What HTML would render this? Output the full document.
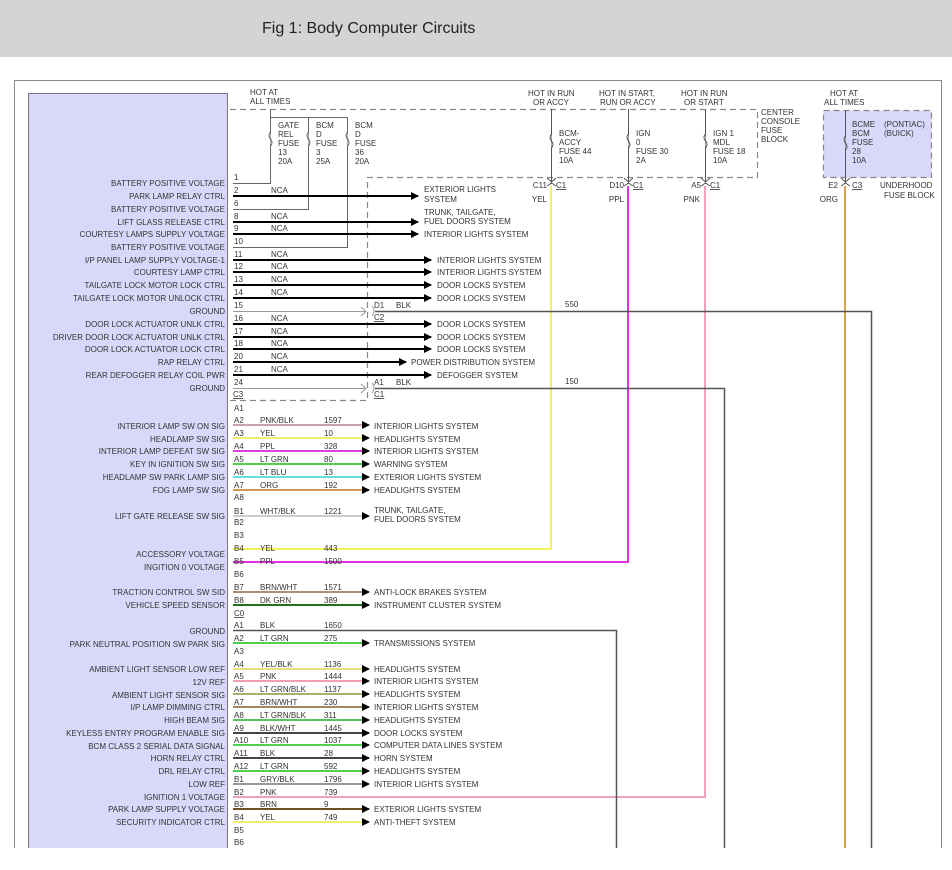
<!DOCTYPE html>
<html><head><meta charset="utf-8"><style>
html,body{margin:0;padding:0;background:#fff;}
svg{display:block;}
text{font-family:"Liberation Sans",sans-serif;font-size:8px;fill:#333;}
.r{text-anchor:end;}
.t{font-size:16px;fill:#222;}
</style></head><body>
<svg width="952" height="870" viewBox="0 0 952 870" xmlns="http://www.w3.org/2000/svg">
<defs>
<marker id="ar" markerWidth="8" markerHeight="8" refX="7" refY="4" orient="auto" markerUnits="userSpaceOnUse"><path d="M0,0 L8,4 L0,8 Z" fill="#000"/></marker>
</defs>
<rect x="0" y="0" width="952" height="57" fill="#d4d4d4"/>
<text class="t" x="262" y="33">Fig 1: Body Computer Circuits</text>
<path d="M14.5,848 V80.5 H941.5 V848" fill="none" stroke="#888" stroke-width="1"/>
<path d="M28.5,848 V93.5 H227.5 V848" fill="#d8d9fa" stroke="#777"/>

<!-- fuse block top -->
<g stroke="#888" stroke-dasharray="6,4" fill="none" stroke-width="1.2">
<path d="M230,109.5 H757.5 V177.5 H367.5 V400.5 H230"/>
<rect x="823.5" y="110.5" width="108" height="67" fill="#d8d9fa"/>
</g>
<text x="250" y="95">HOT AT</text><text x="250" y="104">ALL TIMES</text>
<g stroke="#666" fill="none" stroke-width="1">
<path d="M270.5,109 V183.5 H233"/>
<path d="M270.5,117.5 H347.5 V247.5 H233"/>
<path d="M308.5,117.5 V209.5 H233"/>
</g>
<g stroke="#666" fill="#fff" stroke-width="1">
<path d="M270.5,132 q-3,3.5 0,7 q3,3.5 0,7"/>
<path d="M308.5,132 q-3,3.5 0,7 q3,3.5 0,7"/>
<path d="M347.5,132 q-3,3.5 0,7 q3,3.5 0,7"/>
</g>
<text x="278" y="128">GATE</text><text x="278" y="137">REL</text><text x="278" y="146">FUSE</text><text x="278" y="155">13</text><text x="278" y="164">20A</text>
<text x="316" y="128">BCM</text><text x="316" y="137">D</text><text x="316" y="146">FUSE</text><text x="316" y="155">3</text><text x="316" y="164">25A</text>
<text x="355" y="128">BCM</text><text x="355" y="137">D</text><text x="355" y="146">FUSE</text><text x="355" y="155">36</text><text x="355" y="164">20A</text>

<!-- right fuses -->
<text x="528" y="96">HOT IN RUN</text><text x="533" y="105">OR ACCY</text>
<text x="599" y="96">HOT IN START,</text><text x="600" y="105">RUN OR ACCY</text>
<text x="681" y="96">HOT IN RUN</text><text x="684" y="105">OR START</text>
<text x="761" y="115">CENTER</text><text x="761" y="124">CONSOLE</text><text x="761" y="133">FUSE</text><text x="761" y="142">BLOCK</text>
<text x="830" y="96">HOT AT</text><text x="824" y="105">ALL TIMES</text>
<g stroke="#555" fill="none" stroke-width="1">
<path d="M551.5,109 V182"/><path d="M628.5,109 V182"/><path d="M705.5,109 V182"/><path d="M845.5,110 V182"/>
<path d="M547,178 l4.5,4 l4.5,-4 M624,178 l4.5,4 l4.5,-4 M701,178 l4.5,4 l4.5,-4 M841,178 l4.5,4 l4.5,-4"/>
<path d="M547,186 l4.5,-3 l4.5,3 M624,186 l4.5,-3 l4.5,3 M701,186 l4.5,-3 l4.5,3 M841,186 l4.5,-3 l4.5,3"/>
</g>
<g stroke="#555" fill="#fff" stroke-width="1">
<path d="M551.5,134 q-3,3.5 0,7 q3,3.5 0,7"/><path d="M628.5,134 q-3,3.5 0,7 q3,3.5 0,7"/><path d="M705.5,134 q-3,3.5 0,7 q3,3.5 0,7"/>
</g>
<path d="M845.5,136 q-3,3.5 0,7 q3,3.5 0,7" stroke="#555" fill="#d8d9fa"/>
<text x="559" y="136">BCM-</text><text x="559" y="145">ACCY</text><text x="559" y="154">FUSE 44</text><text x="559" y="163">10A</text>
<text x="636" y="136">IGN</text><text x="636" y="145">0</text><text x="636" y="154">FUSE 30</text><text x="636" y="163">2A</text>
<text x="713" y="136">IGN 1</text><text x="713" y="145">MDL</text><text x="713" y="154">FUSE 18</text><text x="713" y="163">10A</text>
<text x="852" y="127">BCME</text><text x="884" y="127">(PONTIAC)</text><text x="852" y="136">BCM</text><text x="884" y="136">(BUICK)</text><text x="852" y="145">FUSE</text><text x="852" y="154">28</text><text x="852" y="163">10A</text>
<text class="r" x="547" y="188">C11</text><text x="556" y="188" text-decoration="underline">C1</text>
<text class="r" x="624" y="188">D10</text><text x="633" y="188" text-decoration="underline">C1</text>
<text class="r" x="701" y="188">A5</text><text x="710" y="188" text-decoration="underline">C1</text>
<text class="r" x="838" y="188">E2</text><text x="852" y="188" text-decoration="underline">C3</text>
<text x="880" y="188">UNDERHOOD</text><text x="884" y="198">FUSE BLOCK</text>
<text class="r" x="547" y="202">YEL</text><text class="r" x="624" y="202">PPL</text><text class="r" x="700" y="202">PNK</text><text class="r" x="838" y="202">ORG</text>

<!-- vertical feed wires -->
<g fill="none" stroke-width="2">
<path d="M551,186 V549 H233" stroke="#f2f25a"/>
<path d="M628,186 V562 H233" stroke="#e030e0"/>
<path d="M705,186 V797 H233" stroke="#f0a0c0"/>
<path d="M845,186 V848" stroke="#d8a050"/>
</g>
<g fill="none" stroke="#555" stroke-width="1.5">
<path d="M375,311.5 H871.5 V848"/>
<path d="M375,388.5 H724.5 V848"/>
<path d="M233,630.5 H616.5 V848"/>
</g>
<g fill="none" stroke="#999" stroke-width="1"><path d="M233,311.5 H365"/><path d="M233,388.5 H365"/><path d="M361,307 l5,4.5 l-5,4.5 M361,384 l5,4.5 l-5,4.5 M372,306 q4,5 0,10 M372,383 q4,5 0,10"/></g>
<text x="374" y="308">D1</text><text x="396" y="308">BLK</text><text x="374" y="320" text-decoration="underline">C2</text>
<text x="374" y="385">A1</text><text x="396" y="385">BLK</text><text x="374" y="397" text-decoration="underline">C1</text>
<text x="565" y="307">550</text><text x="565" y="384">150</text>
<text x="233" y="397" text-decoration="underline">C3</text>

<!-- NCA wires -->
<g stroke="#000" stroke-width="2" marker-end="url(#ar)" fill="none">
<path d="M233,196 H418"/><path d="M233,222 H418"/><path d="M233,234 H418"/>
<path d="M233,260 H431"/><path d="M233,272 H431"/><path d="M233,285 H431"/><path d="M233,298 H431"/>
<path d="M233,324 H431"/><path d="M233,337 H431"/><path d="M233,349 H431"/>
<path d="M233,362 H406"/><path d="M233,375 H431"/>
</g>
<g>
<text x="424" y="192">EXTERIOR LIGHTS</text><text x="424" y="202">SYSTEM</text>
<text x="424" y="215">TRUNK, TAILGATE,</text><text x="424" y="224">FUEL DOORS SYSTEM</text>
<text x="424" y="237">INTERIOR LIGHTS SYSTEM</text>
<text x="437" y="263">INTERIOR LIGHTS SYSTEM</text><text x="437" y="275">INTERIOR LIGHTS SYSTEM</text>
<text x="437" y="288">DOOR LOCKS SYSTEM</text><text x="437" y="301">DOOR LOCKS SYSTEM</text>
<text x="437" y="327">DOOR LOCKS SYSTEM</text><text x="437" y="340">DOOR LOCKS SYSTEM</text><text x="437" y="352">DOOR LOCKS SYSTEM</text>
<text x="411" y="365">POWER DISTRIBUTION SYSTEM</text><text x="437" y="378">DEFOGGER SYSTEM</text>
</g>
<g>
<text x="234" y="180">1</text><text x="234" y="193">2</text><text x="234" y="206">6</text><text x="234" y="219">8</text><text x="234" y="231">9</text><text x="234" y="244">10</text>
<text x="234" y="257">11</text><text x="234" y="269">12</text><text x="234" y="282">13</text><text x="234" y="295">14</text><text x="234" y="308">15</text>
<text x="234" y="321">16</text><text x="234" y="334">17</text><text x="234" y="346">18</text><text x="234" y="359">20</text><text x="234" y="372">21</text><text x="234" y="385">24</text>
<text x="271" y="193">NCA</text><text x="271" y="219">NCA</text><text x="271" y="231">NCA</text><text x="271" y="257">NCA</text><text x="271" y="269">NCA</text>
<text x="271" y="282">NCA</text><text x="271" y="295">NCA</text><text x="271" y="321">NCA</text><text x="271" y="334">NCA</text><text x="271" y="346">NCA</text><text x="271" y="359">NCA</text><text x="271" y="372">NCA</text>
</g>
<!-- left labels -->
<g>
<text class="r" x="225" y="186">BATTERY POSITIVE VOLTAGE</text>
<text class="r" x="225" y="199">PARK LAMP RELAY CTRL</text>
<text class="r" x="225" y="212">BATTERY POSITIVE VOLTAGE</text>
<text class="r" x="225" y="225">LIFT GLASS RELEASE CTRL</text>
<text class="r" x="225" y="237">COURTESY LAMPS SUPPLY VOLTAGE</text>
<text class="r" x="225" y="250">BATTERY POSITIVE VOLTAGE</text>
<text class="r" x="225" y="263">I/P PANEL LAMP SUPPLY VOLTAGE-1</text>
<text class="r" x="225" y="275">COURTESY LAMP CTRL</text>
<text class="r" x="225" y="288">TAILGATE LOCK MOTOR LOCK CTRL</text>
<text class="r" x="225" y="301">TAILGATE LOCK MOTOR UNLOCK CTRL</text>
<text class="r" x="225" y="314">GROUND</text>
<text class="r" x="225" y="327">DOOR LOCK ACTUATOR UNLK CTRL</text>
<text class="r" x="225" y="340">DRIVER DOOR LOCK ACTUATOR UNLK CTRL</text>
<text class="r" x="225" y="352">DOOR LOCK ACTUATOR LOCK CTRL</text>
<text class="r" x="225" y="365">RAP RELAY CTRL</text>
<text class="r" x="225" y="378">REAR DEFOGGER RELAY COIL PWR</text>
<text class="r" x="225" y="391">GROUND</text>
<text class="r" x="225" y="429">INTERIOR LAMP SW ON SIG</text>
<text class="r" x="225" y="442">HEADLAMP SW SIG</text>
<text class="r" x="225" y="454">INTERIOR LAMP DEFEAT SW SIG</text>
<text class="r" x="225" y="467">KEY IN IGNITION SW SIG</text>
<text class="r" x="225" y="480">HEADLAMP SW PARK LAMP SIG</text>
<text class="r" x="225" y="493">FOG LAMP SW SIG</text>
<text class="r" x="225" y="519">LIFT GATE RELEASE SW SIG</text>
<text class="r" x="225" y="557">ACCESSORY VOLTAGE</text>
<text class="r" x="225" y="570">INGITION 0 VOLTAGE</text>
<text class="r" x="225" y="595">TRACTION CONTROL SW SID</text>
<text class="r" x="225" y="608">VEHICLE SPEED SENSOR</text>
<text class="r" x="225" y="634">GROUND</text>
<text class="r" x="225" y="647">PARK NEUTRAL POSITION SW PARK SIG</text>
<text class="r" x="225" y="672">AMBIENT LIGHT SENSOR LOW REF</text>
<text class="r" x="225" y="685">12V REF</text>
<text class="r" x="225" y="698">AMBIENT LIGHT SENSOR SIG</text>
<text class="r" x="225" y="710">I/P LAMP DIMMING CTRL</text>
<text class="r" x="225" y="723">HIGH BEAM SIG</text>
<text class="r" x="225" y="736">KEYLESS ENTRY PROGRAM ENABLE SIG</text>
<text class="r" x="225" y="749">BCM CLASS 2 SERIAL DATA SIGNAL</text>
<text class="r" x="225" y="761">HORN RELAY CTRL</text>
<text class="r" x="225" y="774">DRL RELAY CTRL</text>
<text class="r" x="225" y="787">LOW REF</text>
<text class="r" x="225" y="800">IGNITION 1 VOLTAGE</text>
<text class="r" x="225" y="812">PARK LAMP SUPPLY VOLTAGE</text>
<text class="r" x="225" y="825">SECURITY INDICATOR CTRL</text>
</g>

<!-- lower colored wires -->
<g stroke-width="2" fill="none" marker-end="url(#ar)">
<path d="M233,425 H369" stroke="#c8a0b0"/>
<path d="M233,438 H369" stroke="#f0f070"/>
<path d="M233,451 H369" stroke="#e040e0"/>
<path d="M233,464 H369" stroke="#50d050"/>
<path d="M233,477 H369" stroke="#60e0e0"/>
<path d="M233,490 H369" stroke="#d09850"/>
<path d="M233,516 H369" stroke="#cccccc"/>
<path d="M233,592 H369" stroke="#a89070"/>
<path d="M233,605 H369" stroke="#207020"/>
<path d="M233,643 H369" stroke="#50d050"/>
<path d="M233,669 H369" stroke="#e8e080"/>
<path d="M233,681 H369" stroke="#f0a0b0"/>
<path d="M233,694 H369" stroke="#a8b070"/>
<path d="M233,707 H369" stroke="#a08860"/>
<path d="M233,720 H369" stroke="#60c060"/>
<path d="M233,733 H369" stroke="#444"/>
<path d="M233,745 H369" stroke="#50d050"/>
<path d="M233,758 H369" stroke="#444"/>
<path d="M233,771 H369" stroke="#50d050"/>
<path d="M233,784 H369" stroke="#999"/>
<path d="M233,809 H369" stroke="#705020"/>
<path d="M233,822 H369" stroke="#f0f070"/>
</g>
<g>
<text x="374" y="429">INTERIOR LIGHTS SYSTEM</text><text x="374" y="442">HEADLIGHTS SYSTEM</text><text x="374" y="454">INTERIOR LIGHTS SYSTEM</text>
<text x="374" y="467">WARNING SYSTEM</text><text x="374" y="480">EXTERIOR LIGHTS SYSTEM</text><text x="374" y="493">HEADLIGHTS SYSTEM</text>
<text x="374" y="513">TRUNK, TAILGATE,</text><text x="374" y="522">FUEL DOORS SYSTEM</text>
<text x="374" y="595">ANTI-LOCK BRAKES SYSTEM</text><text x="374" y="608">INSTRUMENT CLUSTER SYSTEM</text>
<text x="374" y="646">TRANSMISSIONS SYSTEM</text>
<text x="374" y="672">HEADLIGHTS SYSTEM</text><text x="374" y="684">INTERIOR LIGHTS SYSTEM</text><text x="374" y="697">HEADLIGHTS SYSTEM</text>
<text x="374" y="710">INTERIOR LIGHTS SYSTEM</text><text x="374" y="723">HEADLIGHTS SYSTEM</text><text x="374" y="736">DOOR LOCKS SYSTEM</text>
<text x="374" y="748">COMPUTER DATA LINES SYSTEM</text><text x="374" y="761">HORN SYSTEM</text><text x="374" y="774">HEADLIGHTS SYSTEM</text>
<text x="374" y="787">INTERIOR LIGHTS SYSTEM</text><text x="374" y="812">EXTERIOR LIGHTS SYSTEM</text><text x="374" y="825">ANTI-THEFT SYSTEM</text>
</g>
<g>
<text x="234" y="411">A1</text>
<text x="234" y="423">A2</text><text x="260" y="423">PNK/BLK</text><text x="324" y="423">1597</text>
<text x="234" y="436">A3</text><text x="260" y="436">YEL</text><text x="324" y="436">10</text>
<text x="234" y="449">A4</text><text x="260" y="449">PPL</text><text x="324" y="449">328</text>
<text x="234" y="462">A5</text><text x="260" y="462">LT GRN</text><text x="324" y="462">80</text>
<text x="234" y="475">A6</text><text x="260" y="475">LT BLU</text><text x="324" y="475">13</text>
<text x="234" y="488">A7</text><text x="260" y="488">ORG</text><text x="324" y="488">192</text>
<text x="234" y="500">A8</text>
<text x="234" y="514">B1</text><text x="260" y="514">WHT/BLK</text><text x="324" y="514">1221</text>
<text x="234" y="525">B2</text><text x="234" y="538">B3</text>
<text x="234" y="551">B4</text><text x="260" y="551">YEL</text><text x="324" y="551">443</text>
<text x="234" y="564">B5</text><text x="260" y="564">PPL</text><text x="324" y="564">1500</text>
<text x="234" y="577">B6</text>
<text x="234" y="590">B7</text><text x="260" y="590">BRN/WHT</text><text x="324" y="590">1571</text>
<text x="234" y="603">B8</text><text x="260" y="603">DK GRN</text><text x="324" y="603">389</text>
<text x="234" y="616" text-decoration="underline">C0</text>
<text x="234" y="628">A1</text><text x="260" y="628">BLK</text><text x="324" y="628">1650</text>
<text x="234" y="641">A2</text><text x="260" y="641">LT GRN</text><text x="324" y="641">275</text>
<text x="234" y="654">A3</text>
<text x="234" y="667">A4</text><text x="260" y="667">YEL/BLK</text><text x="324" y="667">1136</text>
<text x="234" y="679">A5</text><text x="260" y="679">PNK</text><text x="324" y="679">1444</text>
<text x="234" y="692">A6</text><text x="260" y="692">LT GRN/BLK</text><text x="324" y="692">1137</text>
<text x="234" y="705">A7</text><text x="260" y="705">BRN/WHT</text><text x="324" y="705">230</text>
<text x="234" y="718">A8</text><text x="260" y="718">LT GRN/BLK</text><text x="324" y="718">311</text>
<text x="234" y="731">A9</text><text x="260" y="731">BLK/WHT</text><text x="324" y="731">1445</text>
<text x="234" y="743">A10</text><text x="260" y="743">LT GRN</text><text x="324" y="743">1037</text>
<text x="234" y="756">A11</text><text x="260" y="756">BLK</text><text x="324" y="756">28</text>
<text x="234" y="769">A12</text><text x="260" y="769">LT GRN</text><text x="324" y="769">592</text>
<text x="234" y="782">B1</text><text x="260" y="782">GRY/BLK</text><text x="324" y="782">1796</text>
<text x="234" y="795">B2</text><text x="260" y="795">PNK</text><text x="324" y="795">739</text>
<text x="234" y="807">B3</text><text x="260" y="807">BRN</text><text x="324" y="807">9</text>
<text x="234" y="820">B4</text><text x="260" y="820">YEL</text><text x="324" y="820">749</text>
<text x="234" y="833">B5</text><text x="234" y="845">B6</text>
</g>
</svg>
</body></html>
